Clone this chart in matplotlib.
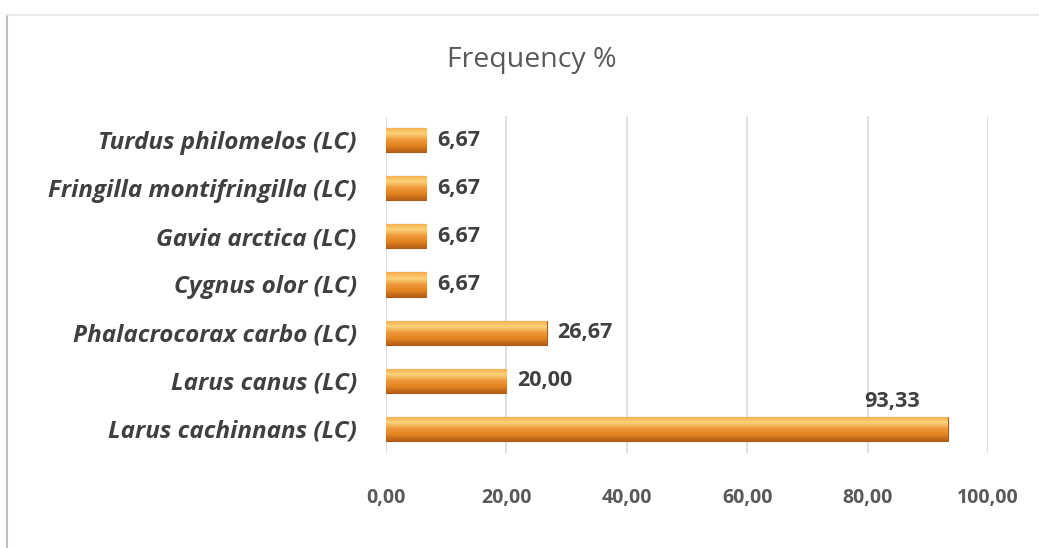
"""Frequency % of bird species - horizontal bar chart."""

import matplotlib

matplotlib.use("Agg")
import matplotlib.pyplot as plt
import numpy as np
from matplotlib.colors import LinearSegmentedColormap
from matplotlib.lines import Line2D

species = [
    "Larus cachinnans (LC)",
    "Larus canus (LC)",
    "Phalacrocorax carbo (LC)",
    "Cygnus olor (LC)",
    "Gavia arctica (LC)",
    "Fringilla montifringilla (LC)",
    "Turdus philomelos (LC)",
]
frequency = [93.33, 20.00, 26.67, 6.67, 6.67, 6.67, 6.67]
xticks = [0, 20, 40, 60, 80, 100]

TEXT = "#404040"
GRID = "#d9d9d9"

plt.rcParams["font.family"] = ["Open Sans", "DejaVu Sans"]

fig = plt.figure(figsize=(10.39, 5.48), dpi=100)
ax = fig.add_axes([0.3715, 0.1734, 0.5794, 0.615])

y = np.arange(len(species))
bars = ax.barh(y, frequency, height=0.5, color="#e8892b", edgecolor="#a85a17", linewidth=0.8, zorder=3)

# vertical gradient inside each bar (light top -> dark bottom)
grad_cmap = LinearSegmentedColormap.from_list(
    "bar", ["#b5611a", "#e3821f", "#f09a3a", "#fcd27a", "#f5a94b"])
grad = np.linspace(0, 1, 64).reshape(-1, 1)
for b in bars:
    x0, y0 = b.get_x(), b.get_y()
    im = ax.imshow(grad, cmap=grad_cmap, aspect="auto", origin="lower",
                   extent=(x0, x0 + b.get_width(), y0, y0 + b.get_height()), zorder=3.5)
    im.set_clip_path(b)

ax.set_xlim(0, 100)
ax.set_ylim(-0.5, len(species) - 0.5)
ax.set_xticks(xticks)
ax.set_xticklabels([f"{v:.2f}".replace(".", ",") for v in xticks], fontsize=14,
                   color="#595959", fontweight="bold")
ax.set_yticks(y)
ax.set_yticklabels(species, fontsize=17.5, color=TEXT, fontweight="bold", fontstyle="italic")
ax.tick_params(axis="y", length=0, pad=21)
ax.tick_params(axis="x", length=0, pad=25)
ax.grid(axis="x", color=GRID, lw=1.2, zorder=0)
for s in ax.spines.values():
    s.set_visible(False)

for i, v in enumerate(frequency):
    lab = f"{v:.2f}".replace(".", ",")
    if v > 90:
        ax.annotate(lab, (v, i), xytext=(-40, 20), textcoords="offset points",
                    ha="center", va="center", fontsize=15.5, color=TEXT, fontweight="bold")
    else:
        ax.annotate(lab, (v, i), xytext=(8, 0), textcoords="offset points",
                    ha="left", va="center", fontsize=15.5, color=TEXT, fontweight="bold")

fig.text(0.512, 0.89, "Frequency %", ha="center", va="center", fontsize=20.5, color="#595959")

# chart frame (left and top edges visible)
fig.add_artist(Line2D([7 / 1039, 7 / 1039], [0, 1 - 15 / 548], transform=fig.transFigure,
                      color="#bfbfbf", lw=1.5))
fig.add_artist(Line2D([7 / 1039, 1], [1 - 15 / 548, 1 - 15 / 548], transform=fig.transFigure,
                      color="#e6e6e6", lw=1.2))

fig.savefig("out.png", dpi=100)
plt.close()
